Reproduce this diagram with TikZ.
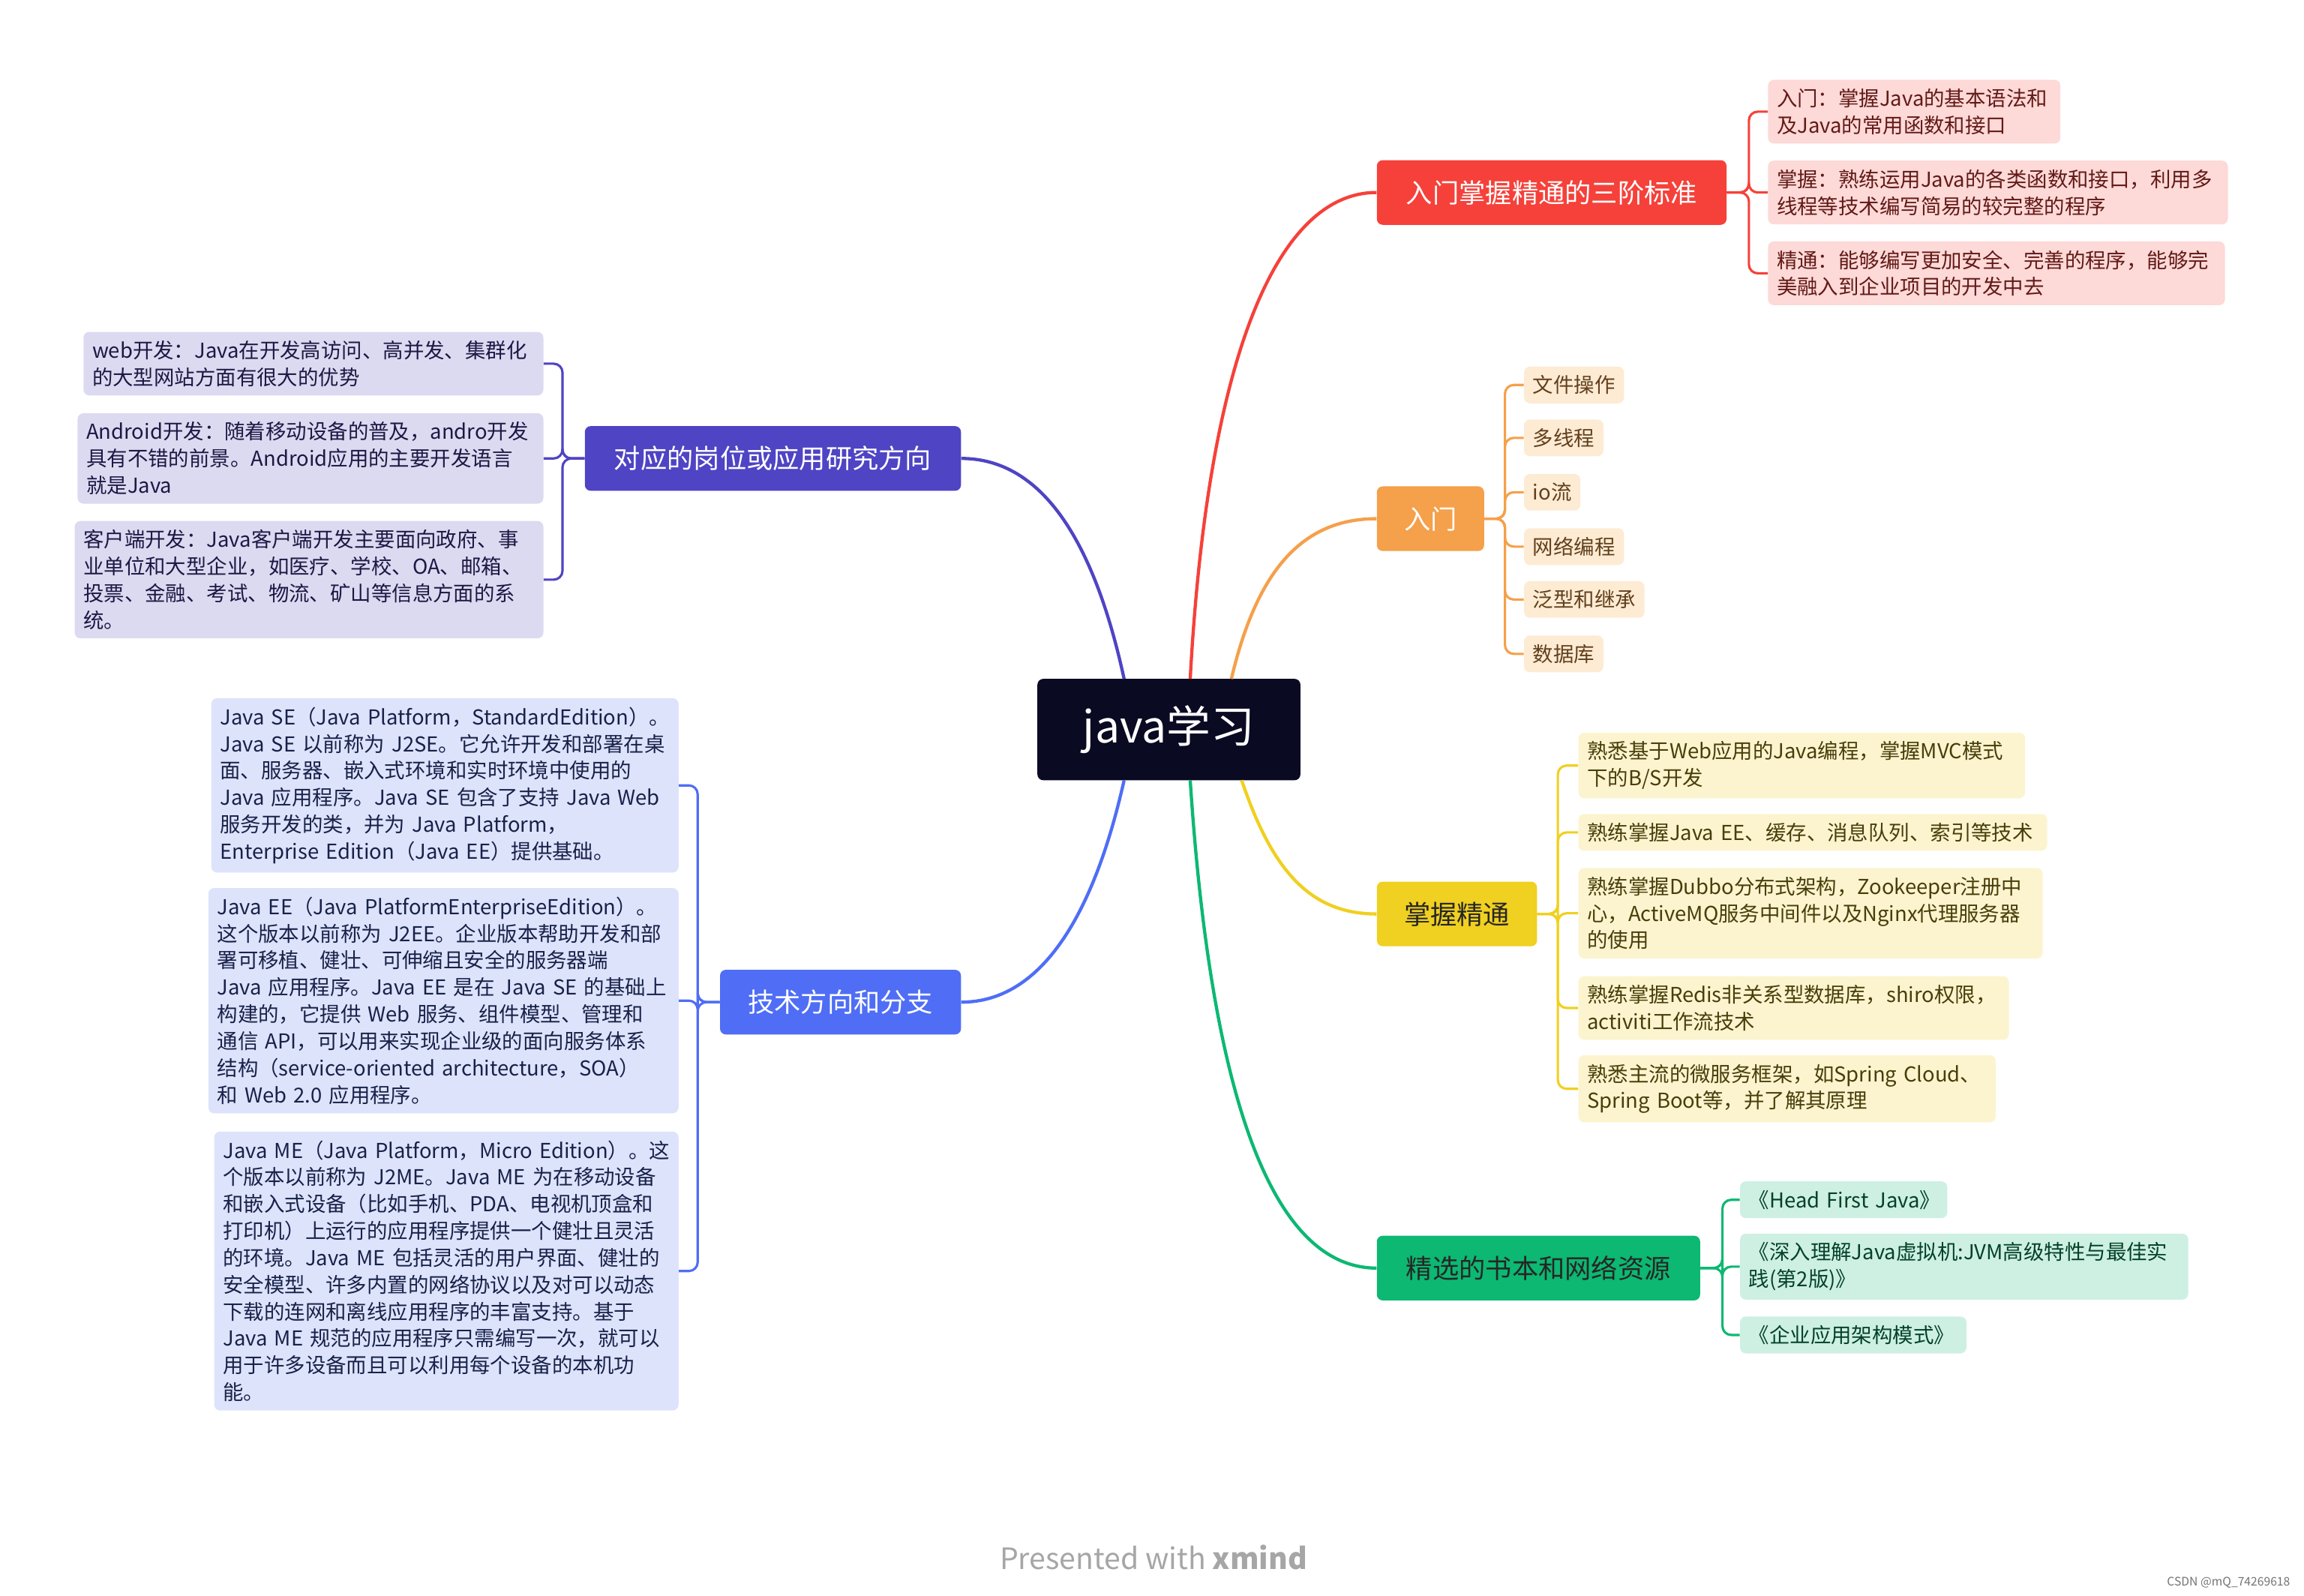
\documentclass[tikz,border=0pt]{standalone}
\usepackage{fontspec}
\setmainfont{Noto Sans CJK SC}
\hyphenpenalty=10000 \exhyphenpenalty=10000
\definecolor{cred}{HTML}{F5413A}\definecolor{lred}{HTML}{FDD9D7}
\definecolor{cora}{HTML}{F5A04A}\definecolor{lora}{HTML}{FDEBD3}
\definecolor{cyel}{HTML}{F0D020}\definecolor{lyel}{HTML}{FCF4CF}
\definecolor{cgrn}{HTML}{0CB872}\definecolor{lgrn}{HTML}{CDF0E2}
\definecolor{cpur}{HTML}{4F44C4}\definecolor{lpur}{HTML}{DCDAF0}
\definecolor{cblu}{HTML}{4F6EF5}\definecolor{lblu}{HTML}{DDE3FB}
\definecolor{cnav}{HTML}{0A0A23}
\tikzset{
 main/.style={rounded corners=4,text=white,font=\fontsize{18}{22}\selectfont,inner sep=0,minimum height=44},
 leaf/.style={rounded corners=4,inner sep=6,align=left,font=\fontsize{14}{18.3}\selectfont,anchor=west},
 con/.style={line width=2.2},
 br/.style={line width=1.6,rounded corners=6}
}
\begin{document}
\begin{tikzpicture}[x=1pt,y=-1pt]
\useasboundingbox (0,0) rectangle (1568,1086);
\node[fill=cnav,rounded corners=4,text=white,font=\fontsize{30}{36}\selectfont,minimum width=179,minimum height=69] (c) at (795.5,496.5) {java学习};
\node[main,fill=cred,minimum width=238] (r) at (1056,131) {入门掌握精通的三阶标准};
\node[main,fill=cora,minimum width=73] (o) at (973.5,353) {入门};
\node[main,fill=cyel,minimum width=109,text=black!85] (y) at (991.5,622) {掌握精通};
\node[main,fill=cgrn,minimum width=220,text=black!85] (g) at (1047,863) {精选的书本和网络资源};
\node[main,fill=cpur,minimum width=256] (p) at (526,312) {对应的岗位或应用研究方向};
\node[main,fill=cblu,minimum width=164] (b) at (572,682) {技术方向和分支};
% main connectors
\draw[con,cred] (810,462) .. controls (822,240) and (870,131) .. (r.west);
\draw[con,cora] (838,462) .. controls (855,390) and (885,353) .. (o.west);
\draw[con,cyel] (845,531) .. controls (865,590) and (890,622) .. (y.west);
\draw[con,cgrn] (810,531) .. controls (825,760) and (870,863) .. (g.west);
\draw[con,cpur] (765,462) .. controls (745,370) and (710,312) .. (p.east);
\draw[con,cblu] (765,531) .. controls (745,620) and (710,682) .. (b.east);
% red leaves
\begin{scope}[every node/.style={leaf,fill=lred,text=cred!40!black}]
\node[text width=187] (r1) at (1203,76) {入门：掌握Java的基本语法和\\及Java的常用函数和接口};
\node[text width=301] (r2) at (1203,131) {掌握：熟练运用Java的各类函数和接口，利用多\\线程等技术编写简易的较完整的程序};
\node[text width=299] (r3) at (1203,186) {精通：能够编写更加安全、完善的程序，能够完\\美融入到企业项目的开发中去};
\end{scope}
\foreach \n in {r1,r2,r3} \draw[br,cred] (r.east) -- ++(15,0) |- (\n.west);
% orange leaves
\begin{scope}[every node/.style={leaf,fill=lora,text=cora!40!black}]
\node (o1) at (1037,262) {文件操作};
\node (o2) at (1037,298) {多线程};
\node (o3) at (1037,335) {io流};
\node (o4) at (1037,372) {网络编程};
\node (o5) at (1037,408) {泛型和继承};
\node (o6) at (1037,445) {数据库};
\end{scope}
\foreach \n in {o1,o2,o3,o4,o5,o6} \draw[br,cora] (o.east) -- ++(14,0) |- (\n.west);
% yellow leaves
\begin{scope}[every node/.style={leaf,fill=lyel,text=cyel!30!black}]
\node[text width=292] (y1) at (1074,521) {熟悉基于Web应用的Java编程，掌握MVC模式\\下的B/S开发};
\node[text width=307] (y2) at (1074,566.5) {熟练掌握Java EE、缓存、消息队列、索引等技术};
\node[text width=304] (y3) at (1074,621.5) {熟练掌握Dubbo分布式架构，Zookeeper注册中\\心，ActiveMQ服务中间件以及Nginx代理服务器\\的使用};
\node[text width=281] (y4) at (1074,686) {熟练掌握Redis非关系型数据库，shiro权限，\\activiti工作流技术};
\node[text width=272] (y5) at (1074,741) {熟悉主流的微服务框架，如Spring Cloud、\\Spring Boot等，并了解其原理};
\end{scope}
\foreach \n in {y1,y2,y3,y4,y5} \draw[br,cyel] (y.east) -- ++(14,0) |- (\n.west);
% green leaves
\begin{scope}[every node/.style={leaf,fill=lgrn,text=cgrn!35!black}]
\node[text width=129] (g1) at (1184,816.5) {\mbox{《Head First Java》}};
\node[text width=293] (g2) at (1184,862) {《深入理解Java虚拟机:JVM高级特性与最佳实\\践(第2版)》};
\node[text width=142] (g3) at (1184,908.5) {《企业应用架构模式》};
\end{scope}
\foreach \n in {g1,g2,g3} \draw[br,cgrn] (g.east) -- ++(15,0) |- (\n.west);
% purple leaves
\begin{scope}[every node/.style={leaf,fill=lpur,text=cpur!35!black,anchor=east}]
\node[text width=301] (p1) at (370,247.5) {web开发：Java在开发高访问、高并发、集群化\\的大型网站方面有很大的优势};
\node[text width=305] (p2) at (370,312) {Android开发：随着移动设备的普及，andro开发\\具有不错的前景。Android应用的主要开发语言\\就是Java};
\node[text width=307] (p3) at (370,394.5) {客户端开发：Java客户端开发主要面向政府、事\\业单位和大型企业，如医疗、学校、OA、邮箱、\\投票、金融、考试、物流、矿山等信息方面的系\\统。};
\end{scope}
\foreach \n in {p1,p2,p3} \draw[br,cpur] (p.west) -- ++(-15,0) |- (\n.east);
% blue leaves
\begin{scope}[every node/.style={leaf,fill=lblu,text=cblu!30!black,anchor=east}]
\node[text width=306] (b1) at (462,534.5) {\mbox{Java SE（Java Platform，StandardEdition）。}\\Java SE 以前称为 J2SE。它允许开发和部署在桌\\面、服务器、嵌入式环境和实时环境中使用的\\Java 应用程序。Java SE 包含了支持 Java Web\\服务开发的类，并为 Java Platform，\\Enterprise Edition（Java EE）提供基础。};
\node[text width=308] (b2) at (462,681) {Java EE（Java PlatformEnterpriseEdition）。\\这个版本以前称为 J2EE。企业版本帮助开发和部\\署可移植、健壮、可伸缩且安全的服务器端\\Java 应用程序。Java EE 是在 Java SE 的基础上\\构建的，它提供 Web 服务、组件模型、管理和\\通信 API，可以用来实现企业级的面向服务体系\\结构（service-oriented architecture，SOA）\\和 Web 2.0 应用程序。};
\node[text width=304] (b3) at (462,865) {\mbox{Java ME（Java Platform，Micro Edition）。这}\\个版本以前称为 J2ME。Java ME 为在移动设备\\和嵌入式设备（比如手机、PDA、电视机顶盒和\\打印机）上运行的应用程序提供一个健壮且灵活\\的环境。Java ME 包括灵活的用户界面、健壮的\\安全模型、许多内置的网络协议以及对可以动态\\下载的连网和离线应用程序的丰富支持。基于\\Java ME 规范的应用程序只需编写一次，就可以\\用于许多设备而且可以利用每个设备的本机功\\能。};
\end{scope}
\foreach \n in {b1,b2,b3} \draw[br,cblu] (b.west) -- ++(-15,0) |- (\n.east);
\node[text=black!35,font=\fontsize{20}{24}\selectfont] (ft) at (785,1060) {Presented with \textbf{xmind}};
\node[text=black!55,font=\fontsize{8}{10}\selectfont,anchor=east] (cs) at (1562,1077) {CSDN @mQ\_74269618};
\end{tikzpicture}
\end{document}
